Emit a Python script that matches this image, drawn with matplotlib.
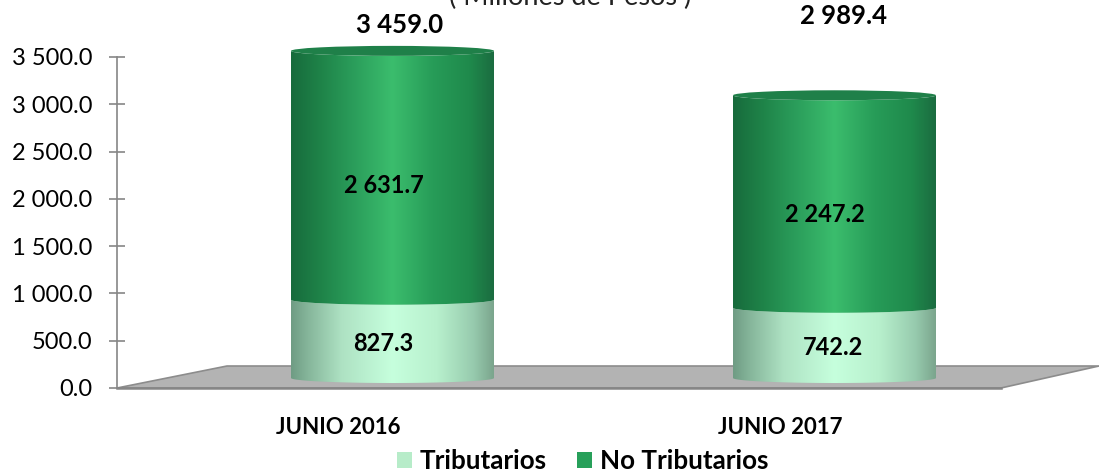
import numpy as np
import matplotlib
matplotlib.use('Agg')
import matplotlib.pyplot as plt
from matplotlib.colors import LinearSegmentedColormap
from matplotlib.patches import Patch, PathPatch, Polygon, Ellipse
from matplotlib.path import Path

plt.rcParams['font.family'] = ['Lato', 'DejaVu Sans']

categories = ['JUNIO 2016', 'JUNIO 2017']
tributarios = [827.3, 742.2]
no_tributarios = [2631.7, 2247.2]
totales = [3459.0, 2989.4]
yticks = [0, 500, 1000, 1500, 2000, 2500, 3000, 3500]

W, H = 1099, 475
fig = plt.figure(figsize=(W/100, H/100), dpi=100)
# axes frame in pixels: x 117-1001, y 57-388
ax = fig.add_axes([117/W, 1-388/H, (1001-117)/W, (388-57)/H])
ax.set_xlim(-0.5, 1.5)
ax.set_ylim(0, 3500)

px_x = 2/(1001-117)     # data units per pixel
px_y = 3500/(388-57)

def fmt(v, dec=1):
    s = f'{v:,.{dec}f}'
    return s.replace(',', ' ')

light = LinearSegmentedColormap.from_list('light', [
    (0, '#6f9c84'), (0.08, '#85b59a'), (0.25, '#aee2c3'), (0.5, '#c6ffdd'),
    (0.72, '#b8f0cd'), (0.9, '#97cbae'), (1, '#7ba58d')])
dark = LinearSegmentedColormap.from_list('dark', [
    (0, '#176b3c'), (0.15, '#1f8449'), (0.3, '#2a9c5a'), (0.5, '#3bbd6d'),
    (0.7, '#279c58'), (0.88, '#1f8a4c'), (1, '#1b6c40')])

# floor of the 3D plot
floor = Polygon([(-0.5, 0), (-0.5+110*px_x, 22*px_y), (1.5+98*px_x, 22*px_y), (1.5, 0)],
                closed=True, facecolor='#b3b3b3', edgecolor='#8c8c8c', lw=1.2,
                clip_on=False, zorder=1)
ax.add_patch(floor)

dx = 54.5*px_x    # cylinders sit back on the floor
dy = 10*px_y
bw = 203*px_x
eh = 5*px_y       # half height of the ellipses

def segment(x, y0, y1, cmap):
    t = np.linspace(np.pi, 2*np.pi, 60)
    xs = x + bw/2*np.cos(t)
    low = y0 + eh*np.sin(t)
    up = y1 + eh*np.sin(t)
    verts = np.vstack([np.column_stack([xs, low]), np.column_stack([xs[::-1], up[::-1]]), [[xs[0], low[0]]]])
    codes = [Path.MOVETO] + [Path.LINETO]*(len(verts)-2) + [Path.CLOSEPOLY]
    clip = PathPatch(Path(verts, codes), facecolor='none', edgecolor='none', zorder=3,
                     clip_on=False)
    ax.add_patch(clip)
    im = ax.imshow(np.linspace(0, 1, 256).reshape(1, -1), cmap=cmap, aspect='auto',
                   extent=[x-bw/2, x+bw/2, y0-2*eh, y1+2*eh], zorder=3, interpolation='bilinear')
    im.set_clip_path(clip)
    im.set_clip_box(fig.bbox)   # top of the cylinder goes over the axes frame

for i in range(len(categories)):
    cx = i + dx
    segment(cx, dy, dy+tributarios[i], light)
    segment(cx, dy+tributarios[i], dy+totales[i], dark)
    ax.add_patch(Ellipse((cx, dy+totales[i]), bw, 2*eh, facecolor='#1f8049', edgecolor='none',
                         zorder=4, clip_on=False))

ax.set_xlim(-0.5, 1.5)
ax.set_ylim(0, 3500)

for s in ['top', 'right']:
    ax.spines[s].set_visible(False)
for s in ['left', 'bottom']:
    ax.spines[s].set_color('#868686')
ax.spines['left'].set_linewidth(1.2)
ax.spines['bottom'].set_linewidth(1.8)

ax.set_yticks(yticks)
ax.set_yticklabels([fmt(v) for v in yticks], fontsize=17, color='black')
ax.tick_params(axis='y', direction='inout', length=12, width=1.2, color='#868686', pad=12)
ax.set_xticks(range(len(categories)))
ax.set_xticklabels(categories, fontsize=16, fontweight='bold')
ax.tick_params(axis='x', length=0, pad=21)

# data labels, offsets in pixels from the middle of each segment
lab = dict(ha='center', va='center', fontweight='bold', color='black', zorder=6, clip_on=False,
           textcoords='offset pixels', annotation_clip=False)
tot_off = [(7, 26), (9, 79)]
nt_off = [(-9, -10), (-10, -13)]
tr_off = [(-9, -5), (-1, -5)]
for i in range(len(categories)):
    cx = i + dx
    ax.annotate(fmt(totales[i]), (cx, dy+totales[i]), xytext=tot_off[i], fontsize=18.5, **lab)
    ax.annotate(fmt(no_tributarios[i]), (cx, dy+tributarios[i]+no_tributarios[i]/2),
                xytext=nt_off[i], fontsize=17, **lab)
    ax.annotate(fmt(tributarios[i]), (cx, dy+tributarios[i]/2), xytext=tr_off[i], fontsize=17, **lab)

fig.text(570/W, 1-5/H, '( Millones de Pesos )', ha='center', va='baseline', fontsize=19.5, color='#222222')

handles = [Patch(facecolor='#b7ecc9', label='Tributarios'), Patch(facecolor='#27a05a', label='No Tributarios')]
fig.legend(handles=handles, loc='center', bbox_to_anchor=(582.5/W, 1-461/H), ncol=2, frameon=False,
           prop={'weight': 'bold', 'size': 18.7}, handlelength=0.58, handleheight=0.58,
           handletextpad=0.3, columnspacing=1.15, borderpad=0)

fig.savefig('out.png', dpi=100)
